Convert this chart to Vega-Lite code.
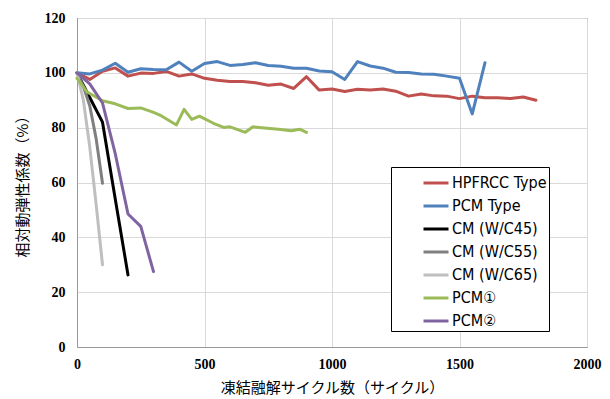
{
  "$schema": "https://vega.github.io/schema/vega-lite/v6.json",
  "autosize": {"type": "none"},
  "padding": {"left": 77, "top": 18, "right": 23, "bottom": 52},
  "width": 510,
  "height": 329,
  "background": "white",
  "config": {
    "view": {"stroke": "#222222", "strokeWidth": 1},
    "axis": {"labelFont": "Liberation Serif", "labelFontWeight": "bold"}
  },
  "data": {
    "values": [
      {"s": "HPFRCC Type", "x": 0, "y": 100}, {"s": "HPFRCC Type", "x": 50, "y": 97.6}, {"s": "HPFRCC Type", "x": 100, "y": 100.6}, {"s": "HPFRCC Type", "x": 150, "y": 101.8}, {"s": "HPFRCC Type", "x": 200, "y": 98.8}, {"s": "HPFRCC Type", "x": 250, "y": 99.9}, {"s": "HPFRCC Type", "x": 300, "y": 99.8}, {"s": "HPFRCC Type", "x": 350, "y": 100.5}, {"s": "HPFRCC Type", "x": 400, "y": 98.8}, {"s": "HPFRCC Type", "x": 450, "y": 99.6}, {"s": "HPFRCC Type", "x": 500, "y": 98}, {"s": "HPFRCC Type", "x": 550, "y": 97.3}, {"s": "HPFRCC Type", "x": 600, "y": 96.8}, {"s": "HPFRCC Type", "x": 650, "y": 96.8}, {"s": "HPFRCC Type", "x": 700, "y": 96.4}, {"s": "HPFRCC Type", "x": 750, "y": 95.5}, {"s": "HPFRCC Type", "x": 800, "y": 95.9}, {"s": "HPFRCC Type", "x": 850, "y": 94.3}, {"s": "HPFRCC Type", "x": 900, "y": 98.6}, {"s": "HPFRCC Type", "x": 950, "y": 93.7}, {"s": "HPFRCC Type", "x": 1000, "y": 94.1}, {"s": "HPFRCC Type", "x": 1050, "y": 93.2}, {"s": "HPFRCC Type", "x": 1100, "y": 94}, {"s": "HPFRCC Type", "x": 1150, "y": 93.7}, {"s": "HPFRCC Type", "x": 1200, "y": 94.1}, {"s": "HPFRCC Type", "x": 1250, "y": 93.3}, {"s": "HPFRCC Type", "x": 1300, "y": 91.5}, {"s": "HPFRCC Type", "x": 1350, "y": 92.3}, {"s": "HPFRCC Type", "x": 1400, "y": 91.6}, {"s": "HPFRCC Type", "x": 1450, "y": 91.5}, {"s": "HPFRCC Type", "x": 1500, "y": 90.6}, {"s": "HPFRCC Type", "x": 1550, "y": 91.5}, {"s": "HPFRCC Type", "x": 1600, "y": 90.9}, {"s": "HPFRCC Type", "x": 1650, "y": 90.9}, {"s": "HPFRCC Type", "x": 1700, "y": 90.6}, {"s": "HPFRCC Type", "x": 1750, "y": 91.2}, {"s": "HPFRCC Type", "x": 1800, "y": 90},
      {"s": "PCM Type", "x": 0, "y": 100}, {"s": "PCM Type", "x": 50, "y": 99.6}, {"s": "PCM Type", "x": 100, "y": 101}, {"s": "PCM Type", "x": 150, "y": 103.5}, {"s": "PCM Type", "x": 200, "y": 100.2}, {"s": "PCM Type", "x": 250, "y": 101.5}, {"s": "PCM Type", "x": 300, "y": 101.2}, {"s": "PCM Type", "x": 350, "y": 101.1}, {"s": "PCM Type", "x": 400, "y": 103.9}, {"s": "PCM Type", "x": 450, "y": 100.6}, {"s": "PCM Type", "x": 500, "y": 103.4}, {"s": "PCM Type", "x": 550, "y": 104.1}, {"s": "PCM Type", "x": 600, "y": 102.7}, {"s": "PCM Type", "x": 650, "y": 103}, {"s": "PCM Type", "x": 700, "y": 103.7}, {"s": "PCM Type", "x": 750, "y": 102.7}, {"s": "PCM Type", "x": 800, "y": 102.4}, {"s": "PCM Type", "x": 850, "y": 101.7}, {"s": "PCM Type", "x": 900, "y": 101.7}, {"s": "PCM Type", "x": 950, "y": 100.7}, {"s": "PCM Type", "x": 1000, "y": 100.4}, {"s": "PCM Type", "x": 1050, "y": 97.6}, {"s": "PCM Type", "x": 1100, "y": 104.1}, {"s": "PCM Type", "x": 1150, "y": 102.5}, {"s": "PCM Type", "x": 1200, "y": 101.7}, {"s": "PCM Type", "x": 1250, "y": 100.2}, {"s": "PCM Type", "x": 1300, "y": 100.1}, {"s": "PCM Type", "x": 1350, "y": 99.6}, {"s": "PCM Type", "x": 1400, "y": 99.5}, {"s": "PCM Type", "x": 1450, "y": 98.8}, {"s": "PCM Type", "x": 1500, "y": 98}, {"s": "PCM Type", "x": 1550, "y": 85}, {"s": "PCM Type", "x": 1600, "y": 103.7},
      {"s": "CM (W/C45)", "x": 0, "y": 100}, {"s": "CM (W/C45)", "x": 50, "y": 91}, {"s": "CM (W/C45)", "x": 100, "y": 82}, {"s": "CM (W/C45)", "x": 150, "y": 54}, {"s": "CM (W/C45)", "x": 200, "y": 26.3},
      {"s": "CM (W/C55)", "x": 0, "y": 100}, {"s": "CM (W/C55)", "x": 25, "y": 95}, {"s": "CM (W/C55)", "x": 50, "y": 88}, {"s": "CM (W/C55)", "x": 75, "y": 76}, {"s": "CM (W/C55)", "x": 100, "y": 59.7},
      {"s": "CM (W/C65)", "x": 0, "y": 100}, {"s": "CM (W/C65)", "x": 25, "y": 90}, {"s": "CM (W/C65)", "x": 50, "y": 73}, {"s": "CM (W/C65)", "x": 75, "y": 52}, {"s": "CM (W/C65)", "x": 100, "y": 30},
      {"s": "PCM①", "x": 0, "y": 98}, {"s": "PCM①", "x": 40, "y": 93}, {"s": "PCM①", "x": 100, "y": 89.8}, {"s": "PCM①", "x": 150, "y": 88.7}, {"s": "PCM①", "x": 200, "y": 87}, {"s": "PCM①", "x": 250, "y": 87.2}, {"s": "PCM①", "x": 300, "y": 85.6}, {"s": "PCM①", "x": 325, "y": 84.6}, {"s": "PCM①", "x": 390, "y": 81}, {"s": "PCM①", "x": 420, "y": 86.7}, {"s": "PCM①", "x": 450, "y": 83}, {"s": "PCM①", "x": 480, "y": 84.2}, {"s": "PCM①", "x": 535, "y": 81.6}, {"s": "PCM①", "x": 575, "y": 80.1}, {"s": "PCM①", "x": 600, "y": 80.3}, {"s": "PCM①", "x": 660, "y": 78.3}, {"s": "PCM①", "x": 690, "y": 80.3}, {"s": "PCM①", "x": 745, "y": 79.8}, {"s": "PCM①", "x": 790, "y": 79.4}, {"s": "PCM①", "x": 840, "y": 78.9}, {"s": "PCM①", "x": 875, "y": 79.4}, {"s": "PCM①", "x": 900, "y": 78.3},
      {"s": "PCM②", "x": 0, "y": 100}, {"s": "PCM②", "x": 50, "y": 96}, {"s": "PCM②", "x": 100, "y": 89}, {"s": "PCM②", "x": 150, "y": 70.5}, {"s": "PCM②", "x": 200, "y": 48.5}, {"s": "PCM②", "x": 250, "y": 44}, {"s": "PCM②", "x": 300, "y": 27.5}
    ]
  },
  "mark": {"type": "line", "strokeJoin": "round", "strokeCap": "round"},
  "encoding": {
    "x": {
      "field": "x", "type": "quantitative",
      "scale": {"domain": [0, 2000], "nice": false},
      "axis": {
        "values": [0, 500, 1000, 1500, 2000], "format": "d",
        "title": "凍結融解サイクル数（サイクル）",
        "titleFont": "Noto Sans CJK JP", "titleFontSize": 15, "titleFontWeight": "normal", "titleColor": "#000000", "titlePadding": 9,
        "labelFont": "Liberation Serif", "labelFontSize": 14, "labelFontWeight": 700, "labelColor": "#000000", "labelPadding": 10,
        "ticks": false, "domainColor": "#999999", "gridColor": "#d9d9d9", "labelFlush": false
      }
    },
    "y": {
      "field": "y", "type": "quantitative",
      "scale": {"domain": [0, 120], "nice": false},
      "axis": {
        "values": [0, 20, 40, 60, 80, 100, 120],
        "title": "相対動弾性係数（%）",
        "titleFont": "Noto Sans CJK JP", "titleFontSize": 15, "titleFontWeight": "normal", "titleColor": "#000000", "titlePadding": 14,
        "labelFont": "Liberation Serif", "labelFontSize": 14, "labelFontWeight": 700, "labelColor": "#000000", "labelPadding": 12,
        "ticks": false, "domainColor": "#999999", "gridColor": "#d9d9d9"
      }
    },
    "color": {
      "field": "s", "type": "nominal",
      "scale": {
        "domain": ["HPFRCC Type", "PCM Type", "CM (W/C45)", "CM (W/C55)", "CM (W/C65)", "PCM①", "PCM②"],
        "range": ["#C0504D", "#4F81BD", "#000000", "#7F7F7F", "#BFBFBF", "#9BBB59", "#8064A2"]
      },
      "legend": {
        "title": null, "orient": "none", "legendX": 314, "legendY": 149,
        "fillColor": "white", "strokeColor": "#000000", "padding": 2,
        "offset": 0,
        "symbolType": "stroke", "symbolSize": 625, "symbolStrokeWidth": 2.5,
        "labelFont": "DejaVu Sans Condensed", "labelFontSize": 16, "labelColor": "#000000", "labelOffset": 2,
        "rowPadding": 1, "labelLimit": 200,
        "symbolOffset": 29
      }
    },
    "strokeWidth": {
      "field": "s", "type": "nominal",
      "scale": {
        "domain": ["HPFRCC Type", "PCM Type", "CM (W/C45)", "CM (W/C55)", "CM (W/C65)", "PCM①", "PCM②"],
        "range": [3, 3, 2, 2, 2, 2.5, 2.5]
      },
      "legend": null
    }
  }
}
